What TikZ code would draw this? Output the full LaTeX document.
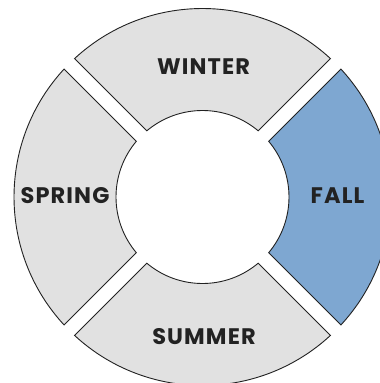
\documentclass[tikz,border=0pt]{standalone}
\usepackage{fontspec}
\setmainfont{Poppins}
\definecolor{seggrey}{HTML}{E1E1E1}
\definecolor{segblue}{HTML}{7EA7D1}
\definecolor{edge}{HTML}{222222}
\definecolor{txt}{HTML}{222222}
\tikzset{
  seg/.style={draw=edge, line width=0.9pt, line join=miter},
  lbl/.style={text=txt, font=\fontsize{22.5}{26}\selectfont\bfseries\addfontfeatures{LetterSpace=5}, inner sep=0pt, anchor=center}
}
\begin{document}
\begin{tikzpicture}[x=1pt,y=1pt]
\useasboundingbox (0,-383) rectangle (380,0);
\clip (0,-383) rectangle (380,0);
\fill[white] (0,-383) rectangle (380,0);
\begin{scope}[shift={(202.5,-197)}]
\pgfmathsetmacro\Ro{188.5}
\pgfmathsetmacro\Ri{86.5}
\pgfmathsetmacro\do{asin(7.4/\Ro)}
\pgfmathsetmacro\di{asin(7.4/\Ri)}
\foreach \c/\clr in {90/seggrey, 180/seggrey, 270/seggrey, 0/segblue}{
  \draw[seg, fill=\clr] (\c-45+\do:\Ro) arc[start angle=\c-45+\do, end angle=\c+45-\do, radius=\Ro]
    -- (\c+45-\di:\Ri) arc[start angle=\c+45-\di, end angle=\c-45+\di, radius=\Ri] -- cycle;
}
\end{scope}
\node[lbl] (winter) at (203.6,-67) {WINTER};
\node[lbl] (spring) at (65,-196) {SPRING};
\node[lbl] (fall) at (337.5,-196) {FALL};
\node[lbl] (summer) at (204,-336.5) {SUMMER};
\end{tikzpicture}
\end{document}
